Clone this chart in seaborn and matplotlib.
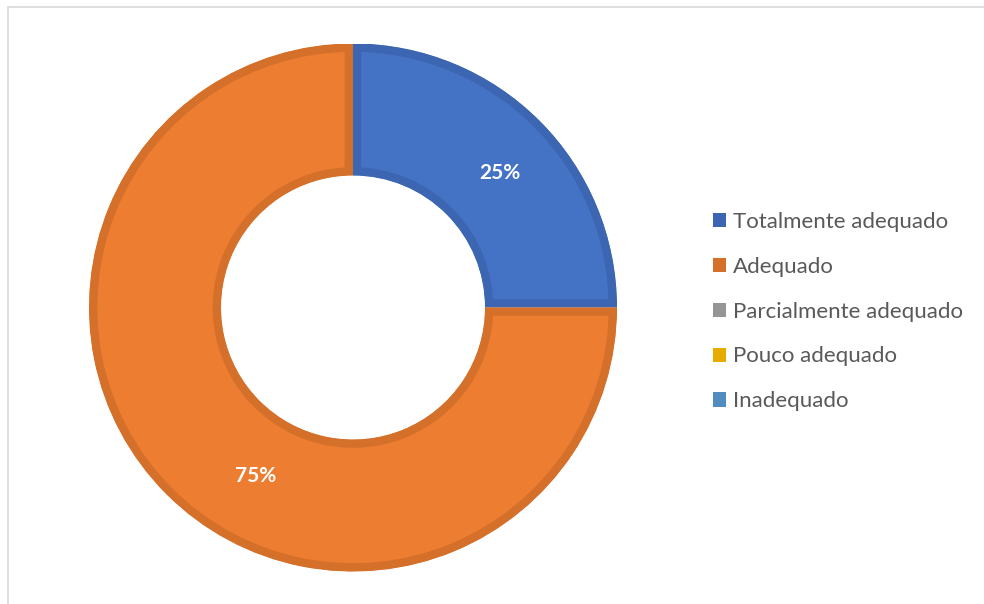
import numpy as np
import matplotlib
matplotlib.use("Agg")
import matplotlib.pyplot as plt
import seaborn as sns
from matplotlib.patches import Patch, Wedge
from matplotlib.lines import Line2D

# ---- data ----
categories = ["Totalmente adequado", "Adequado", "Parcialmente adequado",
              "Pouco adequado", "Inadequado"]
values = [25, 75, 0, 0, 0]
fill_colors = ["#4472C4", "#ED7D31", "#A5A5A5", "#FFC000", "#5B9BD5"]
edge_colors = ["#3C66B1", "#D5702B", "#959595", "#E6AD00", "#528BC0"]

sns.set_theme(style="white")
plt.rcParams['font.family'] = ['Lato', 'DejaVu Sans']

W, H = 984, 604
fig = plt.figure(figsize=(W / 100, H / 100), dpi=100)
fig.patch.set_facecolor("white")

# chart-area border (top and left visible)
fig.add_artist(Line2D([8 / W, 8 / W], [1 - 7 / H, -0.1], transform=fig.transFigure,
                      color="#D9D9D9", lw=1.2))
fig.add_artist(Line2D([8 / W, 1.1], [1 - 7 / H, 1 - 7 / H], transform=fig.transFigure,
                      color="#D9D9D9", lw=1.2))

cx, cy, R = 353, 307.5, 264
ax = fig.add_axes([(cx - R) / W, (H - cy - R) / H, 2 * R / W, 2 * R / H])

nz = [i for i, v in enumerate(values) if v > 0]
vals = [values[i] for i in nz]
wedges, _ = ax.pie(vals, colors=[fill_colors[i] for i in nz], startangle=90,
                   counterclock=False, radius=1,
                   wedgeprops=dict(width=0.5, linewidth=12))
ax.set_xlim(-1, 1)
ax.set_ylim(-1, 1)
ax.set_aspect("equal")
ax.axis("off")

for w, i in zip(wedges, nz):
    w.set_edgecolor(edge_colors[i])
    clip = Wedge(w.center, w.r, w.theta1, w.theta2, width=w.width,
                 transform=ax.transData)
    w.set_clip_on(True)
    w.set_clip_path(clip)

total = sum(values)
start = 90.0
for w, i in zip(wedges, nz):
    frac = values[i] / total
    mid = start - 360 * frac / 2
    if frac > 0.5:
        mid += 15
        r = 0.735
    else:
        mid -= 2.5
        r = 0.755
    start -= 360 * frac
    ax.text(r * np.cos(np.radians(mid)), r * np.sin(np.radians(mid)),
            f"{values[i] / total * 100:.0f}%", ha="center", va="center",
            color="white", fontsize=15, fontweight="bold")

handles = [Patch(facecolor=edge_colors[i], edgecolor="none") for i in range(len(categories))]
leg = fig.legend(handles, categories, loc="center left",
                 bbox_to_anchor=(713 / W, 1 - 311.5 / H),
                 frameon=False, fontsize=16, handlelength=0.6, handleheight=0.6,
                 handletextpad=0.3, labelspacing=1.12, borderpad=0, borderaxespad=0)
for t in leg.get_texts():
    t.set_color("#595959")

fig.savefig("out.png", dpi=100, facecolor="white")
